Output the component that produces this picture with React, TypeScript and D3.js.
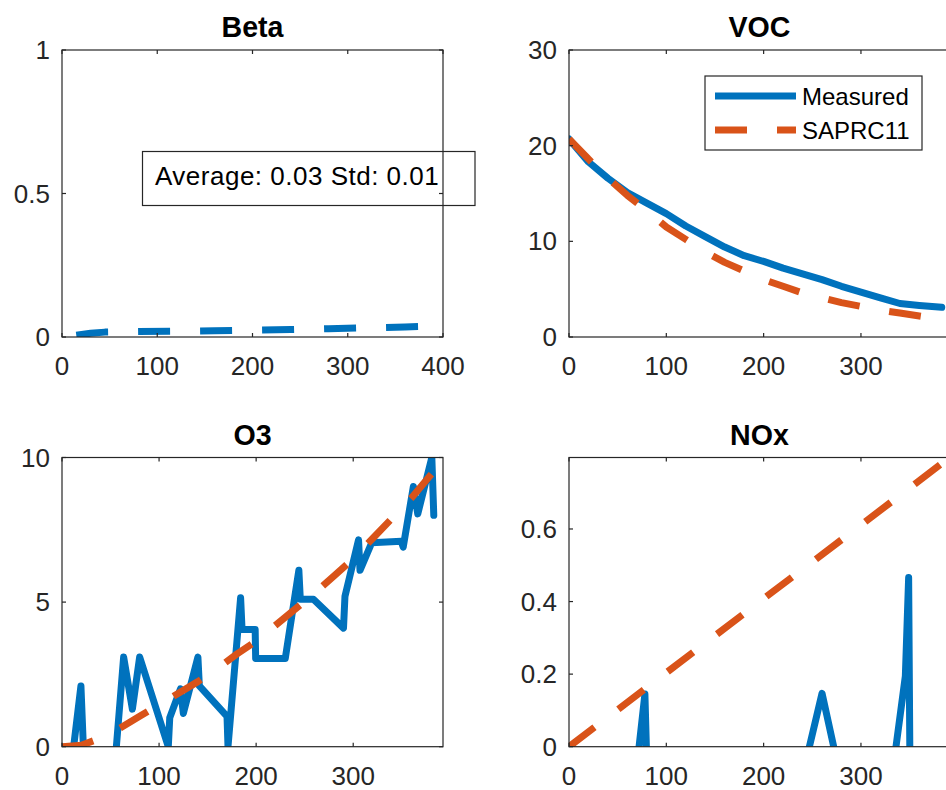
import React from 'react';
import * as d3 from 'd3';

const BLUE = '#0072BD';
const ORANGE = '#D95319';
const AX = '#262626';
const FONT = '"Liberation Sans", Arial, Helvetica, sans-serif';

// ---- Beta ----
const betaTime = [15, 30, 45, 80, 120, 160, 200, 240, 280, 320, 360, 381];
const betaValue = [0.006, 0.013, 0.017, 0.019, 0.02, 0.022, 0.024, 0.026, 0.029, 0.032, 0.035, 0.037];
const betaNote = 'Average: 0.03 Std: 0.01';

// ---- VOC ----
const vocMeasTime = [0, 20, 40, 60, 80, 100, 120, 140, 160, 180, 200, 220, 240, 260, 280, 300, 320, 340, 360, 383];
const vocMeasValue = [20.7, 18.3, 16.6, 15.1, 14.0, 12.9, 11.6, 10.5, 9.4, 8.5, 7.9, 7.2, 6.6, 6.0, 5.3, 4.7, 4.1, 3.5, 3.3, 3.1];
const vocModelTime = [0, 20, 40, 60, 80, 100, 120, 140, 160, 180, 200, 220, 240, 260, 280, 300, 320, 340, 360, 380];
const vocModelValue = [20.7, 18.6, 16.6, 14.8, 13.2, 11.5, 10.2, 8.9, 7.8, 6.9, 6.0, 5.3, 4.6, 4.1, 3.6, 3.2, 2.8, 2.5, 2.2, 1.9];

// ---- O3 ----
const o3MeasTime = [12, 19.5, 22, 40, 56, 63.5, 72.5, 80, 109.5, 111, 122, 125, 140, 141.5, 170, 171, 184, 185.5, 199, 199.5, 230, 244, 245.5, 259, 290, 291.5, 305.5, 307, 319, 349.5, 351.5, 362, 366.5, 381, 383];
const o3MeasValue: (number | null)[] = [0, 2.1, 0, null, 0, 3.1, 1.3, 3.1, 0, 1.0, 2.0, 1.15, 3.1, 2.1, 1.05, 0, 5.15, 4.05, 4.05, 3.05, 3.05, 6.1, 5.1, 5.1, 4.1, 5.2, 7.15, 6.1, 7.05, 7.1, 6.9, 9.0, 8.05, 10.0, 8.0];
const o3ModelTime = [0, 20, 40, 60, 80, 100, 120, 140, 160, 180, 200, 220, 240, 260, 280, 300, 320, 340, 360, 380, 388];
const o3ModelValue = [0, 0.05, 0.3, 0.65, 1.05, 1.45, 1.85, 2.25, 2.7, 3.2, 3.65, 4.2, 4.75, 5.3, 5.9, 6.5, 7.2, 7.9, 8.6, 9.4, 9.7];

// ---- NOx ----
const noxMeasTime = [72, 78, 79.5, 160, 247, 260, 272, 300, 336, 345.6, 349, 350.2];
const noxMeasValue: (number | null)[] = [0, 0.145, 0, null, 0, 0.147, 0, null, 0, 0.194, 0.466, 0];
const noxModelTime = [0, 50, 100, 150, 200, 250, 300, 350, 391];
const noxModelValue = [0, 0.102, 0.204, 0.306, 0.408, 0.509, 0.611, 0.713, 0.797];

const legendLabels = ['Measured', 'SAPRC11'];

type Series = { t: number[]; v: (number | null)[]; color: string; dashed: boolean };

type PanelProps = {
  id: string;
  left: number;
  top: number;
  width: number;
  height: number;
  xMax: number;
  yMax: number;
  xTicks: number[];
  yTicks: number[];
  title: string;
  series: Series[];
  children?: React.ReactNode;
};

const fmt = (v: number) => {
  const s = d3.format('.1f')(v);
  return s.endsWith('.0') ? s.slice(0, -2) : s;
};

function Panel(p: PanelProps) {
  const x = d3.scaleLinear().domain([0, p.xMax]).range([p.left, p.left + p.width]);
  const y = d3.scaleLinear().domain([0, p.yMax]).range([p.top + p.height, p.top]);
  const bottom = p.top + p.height;
  const right = p.left + p.width;
  const tl = 4;
  return (
    <g>
      <defs>
        <clipPath id={`clip-${p.id}`}>
          <rect x={p.left} y={p.top} width={p.width} height={p.height} />
        </clipPath>
      </defs>
      <text x={(p.left + right) / 2} y={p.top - 13} textAnchor="middle" fontFamily={FONT} fontWeight="bold" fontSize={28.6} fill="#000">
        {p.title}
      </text>
      <g clipPath={`url(#clip-${p.id})`}>
        {p.series.map((s, i) => {
          const line = d3
            .line<number>()
            .defined((_, k) => s.v[k] !== null)
            .x((_, k) => x(s.t[k]))
            .y((_, k) => y(s.v[k] as number));
          return (
            <path
              key={i}
              d={line(s.t) || ''}
              fill="none"
              stroke={s.color}
              strokeWidth={7}
              strokeDasharray={s.dashed ? '32 30' : undefined}
              strokeLinecap={s.dashed ? 'butt' : 'round'}
              strokeLinejoin="round"
            />
          );
        })}
      </g>
      <rect x={p.left} y={p.top} width={p.width} height={p.height} fill="none" stroke={AX} strokeWidth={1.2} />
      {p.xTicks.map((t) => (
        <g key={`x${t}`}>
          <line x1={x(t)} x2={x(t)} y1={bottom} y2={bottom - tl} stroke={AX} strokeWidth={1.2} />
          <line x1={x(t)} x2={x(t)} y1={p.top} y2={p.top + tl} stroke={AX} strokeWidth={1.2} />
          <text x={x(t)} y={bottom + 38} textAnchor="middle" fontFamily={FONT} fontSize={26} fill={AX}>
            {fmt(t)}
          </text>
        </g>
      ))}
      {p.yTicks.map((t) => (
        <g key={`y${t}`}>
          <line x1={p.left} x2={p.left + tl} y1={y(t)} y2={y(t)} stroke={AX} strokeWidth={1.2} />
          <line x1={right} x2={right - tl} y1={y(t)} y2={y(t)} stroke={AX} strokeWidth={1.2} />
          <text x={p.left - 12} y={y(t) + 9} textAnchor="end" fontFamily={FONT} fontSize={26} fill={AX}>
            {fmt(t)}
          </text>
        </g>
      ))}
      {p.children}
    </g>
  );
}

export default function App() {
  return (
    <svg width={946} height={790} style={{ position: 'absolute', left: 0, top: 0, background: '#fff' }}>
      <rect x={0} y={0} width={946} height={790} fill="#fff" />
      <Panel
        id="beta"
        left={62}
        top={50}
        width={381}
        height={287}
        xMax={400}
        yMax={1}
        xTicks={[0, 100, 200, 300, 400]}
        yTicks={[0, 0.5, 1]}
        title="Beta"
        series={[{ t: betaTime, v: betaValue, color: BLUE, dashed: true }]}
      />
      <rect x={142.5} y={151.5} width={332.5} height={54} fill="none" stroke={AX} strokeWidth={1.2} />
      <text x={155} y={185} fontFamily={FONT} fontSize={26} letterSpacing={0.5} fill="#000">
        {betaNote}
      </text>

      <Panel
        id="voc"
        left={569}
        top={50}
        width={381}
        height={287}
        xMax={391.5}
        yMax={30}
        xTicks={[0, 100, 200, 300]}
        yTicks={[0, 10, 20, 30]}
        title="VOC"
        series={[
          { t: vocMeasTime, v: vocMeasValue, color: BLUE, dashed: false },
          { t: vocModelTime, v: vocModelValue, color: ORANGE, dashed: true },
        ]}
      >
        <rect x={705} y={76} width={217} height={74} fill="#fff" stroke={AX} strokeWidth={1.2} />
        <line x1={715} x2={796} y1={96} y2={96} stroke={BLUE} strokeWidth={7} />
        <line x1={715} x2={796} y1={130} y2={130} stroke={ORANGE} strokeWidth={7} strokeDasharray="32 30" />
        <text x={802} y={104.5} fontFamily={FONT} fontSize={24} fill="#000">
          {legendLabels[0]}
        </text>
        <text x={802} y={138.5} fontFamily={FONT} fontSize={24} fill="#000">
          {legendLabels[1]}
        </text>
      </Panel>

      <Panel
        id="o3"
        left={62}
        top={457.5}
        width={381}
        height={289.2}
        xMax={392.5}
        yMax={10}
        xTicks={[0, 100, 200, 300]}
        yTicks={[0, 5, 10]}
        title="O3"
        series={[
          { t: o3MeasTime, v: o3MeasValue, color: BLUE, dashed: false },
          { t: o3ModelTime, v: o3ModelValue, color: ORANGE, dashed: true },
        ]}
      />

      <Panel
        id="nox"
        left={569}
        top={457.5}
        width={381}
        height={289.2}
        xMax={391.5}
        yMax={0.797}
        xTicks={[0, 100, 200, 300]}
        yTicks={[0, 0.2, 0.4, 0.6]}
        title="NOx"
        series={[
          { t: noxMeasTime, v: noxMeasValue, color: BLUE, dashed: false },
          { t: noxModelTime, v: noxModelValue, color: ORANGE, dashed: true },
        ]}
      />
    </svg>
  );
}
